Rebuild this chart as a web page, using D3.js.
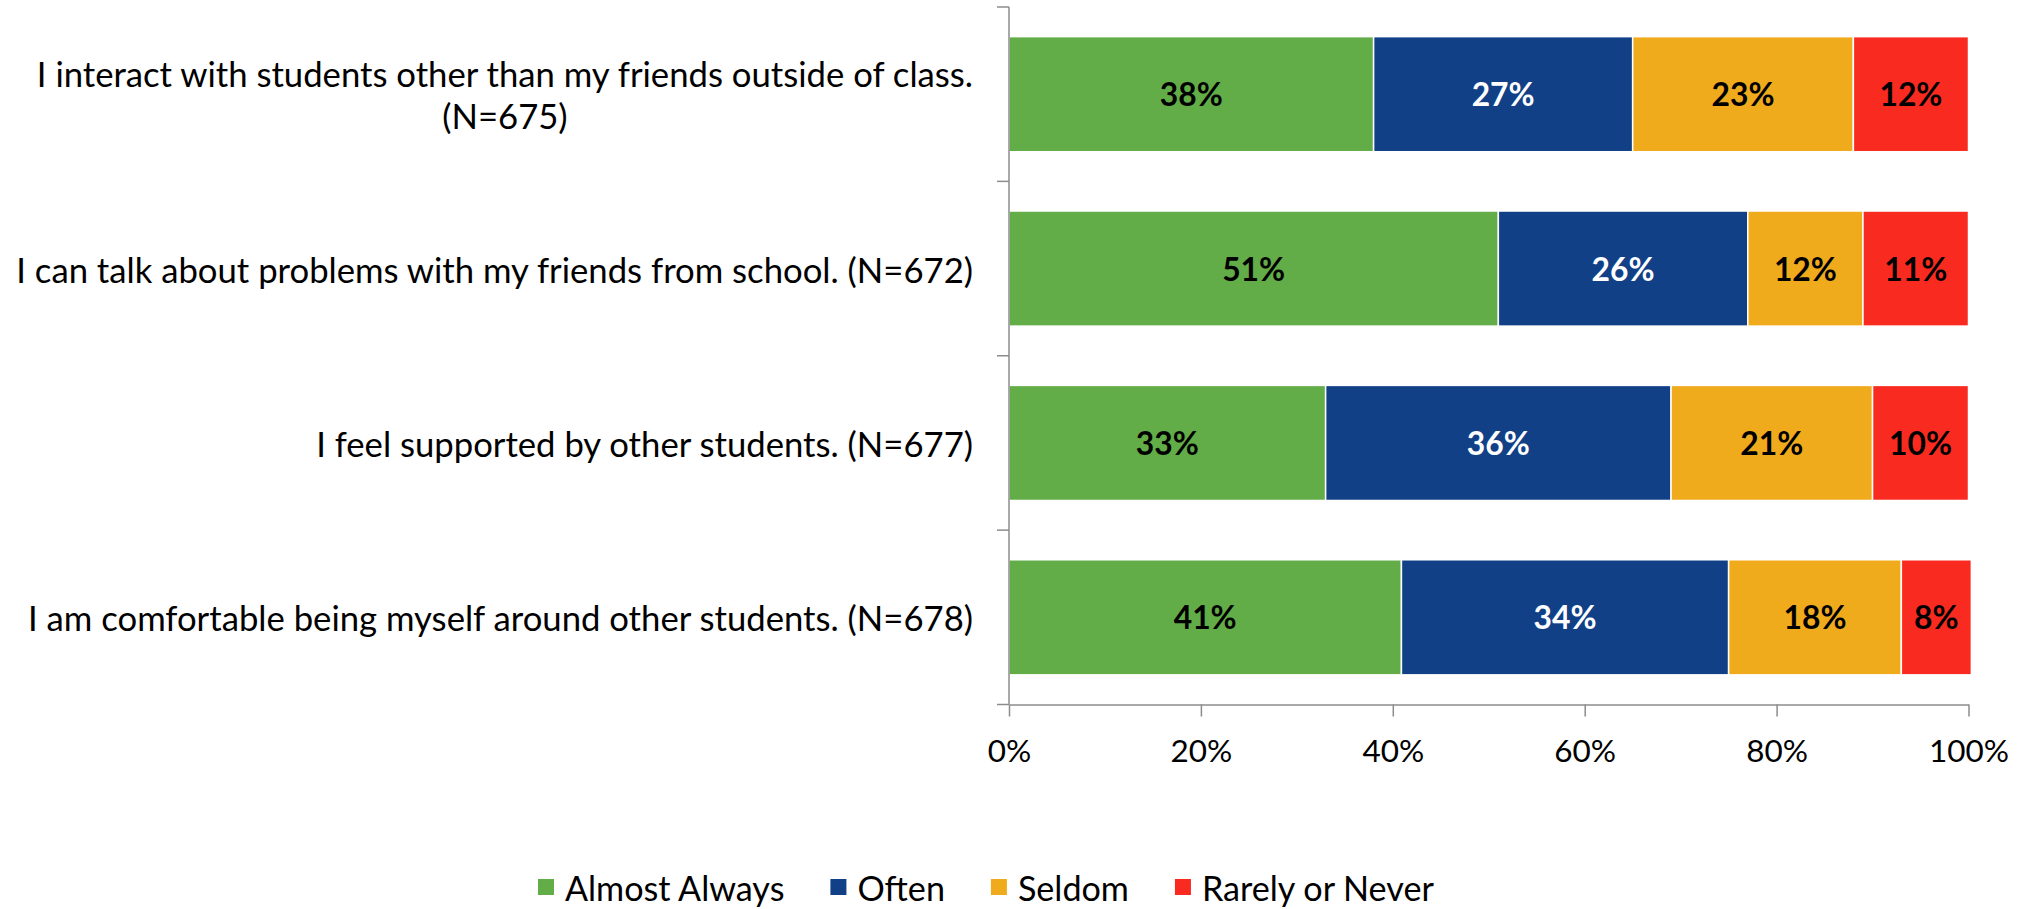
<!DOCTYPE html>
<html>
<head>
<meta charset="utf-8">
<script src="https://cdn.jsdelivr.net/npm/d3@7/dist/d3.min.js"></script>
<style>
  html, body { margin: 0; padding: 0; background: #fff; }
  svg text { font-family: Lato, "Open Sans", sans-serif; fill: #000; }
</style>
</head>
<body>
<svg id="chart" width="2028" height="909"></svg>
<script>
// ---- data ----
const categories = [
  ["I interact with students other than my friends outside of class.", "(N=675)"],
  ["I can talk about problems with my friends from school. (N=672)"],
  ["I feel supported by other students. (N=677)"],
  ["I am comfortable being myself around other students. (N=678)"]
];
const seriesNames = ["Almost Always", "Often", "Seldom", "Rarely or Never"];
const almostAlways = [38, 51, 33, 40.9];
const often        = [27, 26, 36, 34.1];
const seldom       = [23, 12, 21, 18.0];
const rarelyNever  = [12, 11, 10, 7.3];
const labelsAlmostAlways = ["38%", "51%", "33%", "41%"];
const labelsOften        = ["27%", "26%", "36%", "34%"];
const labelsSeldom       = ["23%", "12%", "21%", "18%"];
const labelsRarelyNever  = ["12%", "11%", "10%", "8%"];
const xTickValues = [0, 20, 40, 60, 80, 100];
const xTickLabels = ["0%", "20%", "40%", "60%", "80%", "100%"];

const colors = ["#62AD47", "#114087", "#F0AB1D", "#F92B21"];
const labelColors = ["#000", "#fff", "#000", "#000"];

// ---- layout ----
const svg = d3.select("#chart");
const plot = { left: 1009, right: 1968.5, top: 7, bottom: 704.5 };
const axisColor = "#8c8c8c";

const x = d3.scaleLinear().domain([0, 100]).range([plot.left, plot.right]);
const keys = categories.map((c, i) => "c" + i);
const y = d3.scaleBand().domain(keys).range([plot.top, plot.bottom])
  .paddingInner(0.34).paddingOuter(0.17);

const valueSeries = [almostAlways, often, seldom, rarelyNever];
const labelSeries = [labelsAlmostAlways, labelsOften, labelsSeldom, labelsRarelyNever];

// fit helper: returns font size so that text's width equals target
function fitSize(text, target, weight) {
  const t = svg.append("text").attr("font-size", 100).attr("font-weight", weight || 400).text(text);
  const w = t.node().getComputedTextLength();
  t.remove();
  return 100 * target / w;
}
const catSize = fitSize(categories[1][0], 957);
const tickSize = fitSize("100%", 80);
const valSize = fitSize("38%", 63, 700);
const legSize = fitSize("Rarely or Never", 232);

// rows data
const rows = keys.map((k, i) => {
  let acc = 0;
  return valueSeries.map((s, j) => {
    const d = { key: k, series: j, x0: acc, x1: acc + s[i], label: labelSeries[j][i] };
    acc += s[i];
    return d;
  });
});

// bars
const g = svg.append("g");
rows.forEach(r => {
  g.selectAll(null).data(r).enter().append("rect")
    .attr("x", d => x(d.x0))
    .attr("y", d => y(d.key))
    .attr("width", d => x(d.x1) - x(d.x0))
    .attr("height", y.bandwidth())
    .attr("fill", d => colors[d.series])
    .attr("stroke", "#fff")
    .attr("stroke-width", 1.5);
  g.selectAll(null).data(r).enter().append("text")
    .attr("x", d => (x(d.x0) + x(d.x1)) / 2)
    .attr("y", d => y(d.key) + y.bandwidth() / 2)
    .attr("text-anchor", "middle")
    .attr("dominant-baseline", "central")
    .attr("font-weight", 700)
    .attr("font-size", valSize)
    .style("fill", d => labelColors[d.series])
    .text(d => d.label);
});

// y axis (category axis) with ticks at band boundaries
const gap = (y.step() - y.bandwidth()) / 2;
const boundaries = keys.map(k => y(k) - gap).concat([y(keys[keys.length - 1]) + y.bandwidth() + gap]);
svg.append("line")
  .attr("x1", plot.left).attr("x2", plot.left)
  .attr("y1", boundaries[0]).attr("y2", boundaries[boundaries.length - 1])
  .attr("stroke", axisColor).attr("stroke-width", 1.5);
svg.selectAll(null).data(boundaries).enter().append("line")
  .attr("x1", plot.left - 12).attr("x2", plot.left)
  .attr("y1", d => d).attr("y2", d => d)
  .attr("stroke", axisColor).attr("stroke-width", 1.5);

// category labels
const labelRight = 973;
keys.forEach((k, i) => {
  const lines = categories[i];
  const cy = y(k) + y.bandwidth() / 2;
  const lh = 42;
  const t = svg.append("text")
    .attr("font-size", catSize)
    .attr("dominant-baseline", "central");
  lines.forEach((ln, li) => {
    t.append("tspan")
      .attr("x", 0)
      .attr("y", cy + (li - (lines.length - 1) / 2) * lh)
      .text(ln);
  });
  const widths = [];
  t.selectAll("tspan").each(function () { widths.push(this.getComputedTextLength()); });
  const maxW = d3.max(widths);
  const center = labelRight - maxW / 2;
  t.attr("text-anchor", "middle");
  t.selectAll("tspan").attr("x", center);
});

// x axis
const xAxis = d3.axisBottom(x)
  .tickValues(xTickValues)
  .tickFormat((d, i) => xTickLabels[i])
  .tickSize(12)
  .tickSizeOuter(0)
  .tickPadding(18);
const gx = svg.append("g").attr("transform", `translate(0,${plot.bottom})`).call(xAxis);
gx.select(".domain").attr("stroke", axisColor).attr("stroke-width", 1.5);
gx.selectAll(".tick line").attr("stroke", axisColor).attr("stroke-width", 1.5);
gx.selectAll(".tick text")
  .attr("font-size", tickSize)
  .attr("font-family", "Lato, 'Open Sans', sans-serif")
  .attr("dy", null)
  .attr("y", 45)
  .attr("dominant-baseline", "central")
  .style("fill", "#000");

// legend
const legY = 887;
const legend = svg.append("g");
let lx = 538;
seriesNames.forEach((name, i) => {
  legend.append("rect")
    .attr("x", lx).attr("y", legY - 8).attr("width", 16).attr("height", 16)
    .attr("fill", colors[i]);
  const t = legend.append("text")
    .attr("x", lx + 27).attr("y", legY)
    .attr("dominant-baseline", "central")
    .attr("font-size", legSize)
    .text(name);
  lx = lx + 27 + t.node().getComputedTextLength() + 46;
});
</script>
</body>
</html>
